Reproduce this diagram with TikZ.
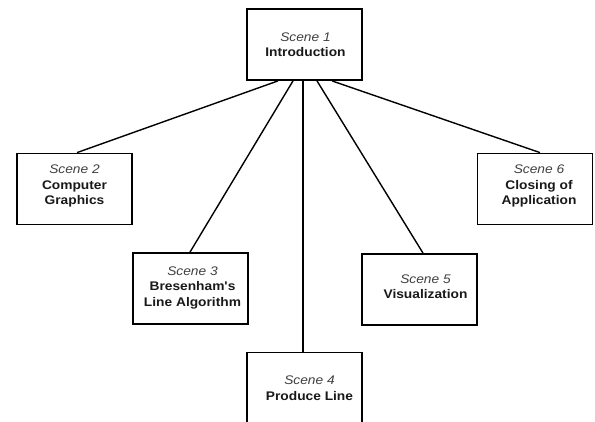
\documentclass[tikz,border=0pt]{standalone}
\usepackage{fontspec}
\setmainfont{Liberation Sans}
\newfontfamily\boxfont[FakeStretch=1.1]{Liberation Sans}
\newcommand{\scenelbl}[1]{{\itshape\color{black!75}Scene #1}}
\begin{document}
\begin{tikzpicture}[x=1pt,y=-1pt,
  scenebox/.style={draw=black,line width=1.8pt,minimum width=115pt,minimum height=71pt,inner sep=0pt},
  scenetext/.style={align=center,font=\boxfont\fontsize{12.5}{15.5}\selectfont,text=black!90},
  link/.style={line width=1.4pt,black}]
\useasboundingbox (0,0) rectangle (595,421);
\clip (0,0) rectangle (595,421);
\fill[white] (0,0) rectangle (595,421);
\node[scenebox] (b1) at (304.5,44.5) {};
\node[scenebox] (b2) at (74.5,189) {};
\node[scenebox] (b3) at (190.5,288.5) {};
\node[scenebox] (b4) at (304.5,388) {};
\node[scenebox] (b5) at (419.5,289.5) {};
\node[scenebox] (b6) at (535,189) {};
\node[scenetext] (t1) at ([xshift=1pt]b1.center) {\scenelbl{1}\\\textbf{Introduction}};
\node[scenetext] (t2) at ([yshift=3pt]b2.center) {\scenelbl{2}\\\textbf{Computer}\\\textbf{Graphics}};
\node[scenetext] (t3) at ([xshift=2pt,yshift=1pt]b3.center) {\scenelbl{3}\\\textbf{Bresenham's}\\\textbf{Line Algorithm}};
\node[scenetext] (t4) at ([xshift=5pt]b4.center) {\scenelbl{4}\\\textbf{Produce Line}};
\node[scenetext] (t5) at ([xshift=6pt,yshift=3pt]b5.center) {\scenelbl{5}\\\textbf{Visualization}};
\node[scenetext] (t6) at ([xshift=4pt,yshift=3pt]b6.center) {\scenelbl{6}\\\textbf{Closing of}\\\textbf{Application}};
\draw[link] ([xshift=-26.5pt]b1.south) -- ([xshift=2.5pt]b2.north);
\draw[link] ([xshift=-11.5pt]b1.south) -- ([xshift=-0.5pt]b3.north);
\draw[link] ([xshift=-1.5pt]b1.south) -- ([xshift=-1.5pt]b4.north);
\draw[link] ([xshift=12.5pt]b1.south) -- ([xshift=3.5pt]b5.north);
\draw[link] ([xshift=27.5pt]b1.south) -- ([xshift=5pt]b6.north);
\end{tikzpicture}
\end{document}
